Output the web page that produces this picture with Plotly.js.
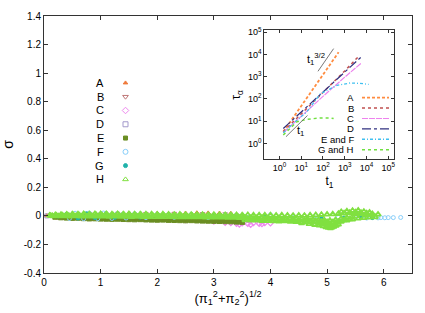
<!DOCTYPE html>
<html><head><meta charset="utf-8">
<script src="https://cdn.plot.ly/plotly-3.0.1.min.js"></script>
<style>html,body{margin:0;padding:0;background:#fff}#c{width:425px;height:313px}</style>
</head><body><div id="c"></div>
<script>
// ---------- main scatter data: sigma vs (pi1^2+pi2^2)^(1/2) ----------
const seriesNames = ["A","B","C","D","E","F","G","H"];
const aX = [0.05,0.2,0.5,1.0,1.5,2.0,2.5,2.7,2.9,3.1,3.3];
const aY = [0.002,0.004,0.014,0.018,0.019,0.019,0.020,0.022,0.021,0.020,0.018];
const bX = [0.3,0.8,1.3,1.8,2.3,2.8,3.2];
const bY = [0.010,0.017,0.018,0.017,0.018,0.016,0.015];
const cX = [0.5,1.5,2.5,3.0,3.2,3.3,3.4,3.5,3.6,3.7,3.8,3.9,4.0,3.45,3.65,3.85];
const cY = [-0.010,-0.020,-0.030,-0.040,-0.048,-0.050,-0.055,-0.052,-0.056,-0.050,-0.055,-0.050,-0.052,-0.060,-0.062,-0.058];
const dX = [0.05,0.2,0.6,1.0,1.6,2.2,2.8,3.4];
const dY = [0.000,0.000,0.005,0.008,0.006,0.004,0.002,0.000];
const eX = [0.2,0.3,0.4,0.5,0.6,0.7,0.8,0.9,1.0,1.1,1.2,1.3,1.4,1.5,1.6,1.7,1.8,1.9,2.0,2.1,2.2,2.3,2.4,2.5,2.6,2.7,2.8,2.9,3.0,3.1,3.2,3.3,3.4,3.5,
            0.25,0.35,0.45,0.55,0.65,0.75,0.85,0.95,1.05,1.15,1.25,1.35,1.45,1.55,1.65,1.75,1.85,1.95,2.05,2.15,2.25,2.35,2.45,2.55,2.65,2.75,2.85,2.95,3.05,3.15,3.25,3.35,3.45];
const eY = [-0.006,-0.010,-0.012,-0.014,-0.013,-0.016,-0.018,-0.017,-0.019,-0.020,-0.021,-0.020,-0.022,-0.023,-0.024,-0.023,-0.025,-0.026,-0.027,-0.026,-0.028,-0.029,-0.030,-0.031,-0.030,-0.032,-0.033,-0.034,-0.035,-0.036,-0.037,-0.038,-0.040,-0.042,
            -0.002,-0.004,-0.005,-0.006,-0.007,-0.008,-0.009,-0.010,-0.011,-0.012,-0.012,-0.013,-0.014,-0.015,-0.015,-0.016,-0.017,-0.018,-0.018,-0.019,-0.020,-0.021,-0.022,-0.022,-0.023,-0.024,-0.025,-0.026,-0.027,-0.028,-0.029,-0.030,-0.031];
const fX = [0.3,0.45,0.55,0.7,0.8,0.95,1.05,1.2,1.3,1.45,1.6,1.8,2.0,2.3,2.6,2.9,3.2,3.6,4.0,4.4,4.8,5.2,5.5,5.7,5.8,5.9,5.95,6.02,6.08,6.17,6.3];
const fY = [0.005,-0.018,0.018,-0.020,0.020,-0.020,0.020,-0.018,0.017,-0.015,0.015,-0.012,0.012,-0.010,0.011,-0.012,0.010,-0.010,0.008,-0.005,0.000,-0.010,-0.012,-0.015,-0.010,-0.014,-0.012,-0.013,-0.012,-0.012,-0.011];
const gX = [0.25,0.4,0.6,0.75,0.9,1.1,1.25,1.4,1.7,2.1,2.5,3.0,3.4,3.9,4.4,4.9,5.3,5.6,5.8];
const gY = [0.000,0.012,-0.015,0.015,-0.012,0.014,-0.010,0.012,-0.008,0.006,-0.006,0.004,-0.008,-0.010,-0.015,-0.020,-0.015,-0.010,-0.012];
const hX = [0.1,0.2,0.3,0.4,0.5,0.6,0.7,0.8,0.9,1.0,1.1,1.2,1.3,1.4,1.5,1.6,1.7,1.8,1.9,2.0,2.1,2.2,2.3,2.4,2.5,2.6,2.7,2.8,2.9,3.0,
            3.1,3.2,3.3,3.4,3.5,3.6,3.7,3.8,3.9,4.0,4.1,4.2,4.3,4.4,4.5,4.6,4.7,4.8,4.9,5.0,5.1,5.2,5.3,5.4,5.5,5.6,5.7,5.8,5.9,
            0.15,0.25,0.35,0.45,0.55,0.65,0.75,0.85,0.95,1.05,1.15,1.25,1.35,1.45,1.55,1.65,1.75,1.85,1.95,2.05,2.15,2.25,2.35,2.45,2.55,2.65,2.75,2.85,2.95,
            3.05,3.15,3.25,3.35,3.45,3.55,3.65,3.75,3.85,3.95,4.05,4.15,4.25,4.35,4.45,4.55,4.65,4.75,4.85,4.95,5.05,5.15,5.25,5.35,5.45,5.55,5.65,5.75,5.85,
            0.12,0.22,0.32,0.42,0.52,0.62,0.72,0.82,0.92,1.02,1.12,1.22,1.32,1.42,1.52,1.62,1.72,1.82,1.92,2.02,2.12,2.22,2.32,2.42,2.52,2.62,2.72,2.82,2.92,3.02,3.12,3.22,3.32,3.42,3.52,
            3.55,3.65,3.75,3.85,3.95,4.05,4.15,4.25,4.35,4.45,4.55,4.65,4.75,4.85,4.95,5.05,5.15,5.25,5.35,5.45,
            3.6,3.7,3.8,3.9,4.0,4.1,4.2,4.3,4.4,4.5,4.6,4.7,4.8,4.9,5.0,5.1,5.2,5.3,5.4,
            4.55,4.68,4.78,4.86,4.93,4.98,5.02,5.06,5.09,5.12,5.16,5.2,5.0,4.9,5.1,
            5.25,5.35,5.45,5.55,5.65,5.75,5.5,5.6,5.7,5.8];
const hY = [0.003,0.006,0.008,0.010,0.011,0.012,0.013,0.012,0.014,0.013,0.014,0.012,0.013,0.012,0.013,0.012,0.011,0.012,0.011,0.010,0.011,0.010,0.009,0.010,0.009,0.008,0.009,0.008,0.007,0.008,
            0.007,0.006,0.007,0.006,0.005,0.006,0.005,0.004,0.005,0.004,0.003,0.004,0.003,0.002,0.003,0.002,0.004,0.006,0.008,0.010,0.012,0.015,0.018,0.022,0.025,0.022,0.018,0.014,0.010,
            -0.001,-0.002,-0.002,-0.003,-0.002,-0.003,-0.004,-0.003,-0.004,-0.004,-0.005,-0.004,-0.005,-0.005,-0.006,-0.005,-0.006,-0.006,-0.007,-0.006,-0.007,-0.007,-0.008,-0.008,-0.009,-0.008,-0.009,-0.010,-0.010,
            -0.011,-0.011,-0.012,-0.012,-0.013,-0.030,-0.032,-0.031,-0.034,-0.035,-0.036,-0.038,-0.037,-0.040,-0.041,-0.043,-0.042,-0.045,-0.047,-0.050,-0.055,-0.050,-0.040,-0.032,-0.025,-0.018,-0.014,-0.010,-0.008,
            0.002,0.003,0.004,0.004,0.005,0.005,0.006,0.005,0.006,0.005,0.005,0.004,0.005,0.004,0.004,0.003,0.004,0.003,0.003,0.002,0.002,0.001,0.002,0.001,0.000,0.001,0.000,-0.001,-0.001,-0.002,-0.002,-0.003,-0.003,-0.004,-0.004,
            -0.012,-0.014,-0.015,-0.013,-0.016,-0.018,-0.017,-0.019,-0.020,-0.022,-0.021,-0.023,-0.025,-0.028,-0.030,-0.032,-0.028,-0.020,-0.012,-0.005,
            -0.022,-0.022,-0.024,-0.025,-0.026,-0.028,-0.027,-0.029,-0.031,-0.032,-0.033,-0.035,-0.036,-0.040,-0.042,-0.044,-0.040,-0.030,-0.022,
            -0.050,-0.056,-0.062,-0.066,-0.072,-0.078,-0.082,-0.086,-0.080,-0.075,-0.068,-0.060,-0.062,-0.058,-0.070,
            0.028,0.032,0.036,0.038,0.030,0.024,0.015,0.012,0.008,0.005];

// ---------- inset data: tau_alpha vs t1 (log-log) ----------
const insetNames = ["A","B","C","D","E and F","G and H"];
const inA_t = [1.5,3.2,10,32,100,250,525];
const inA_tau = [3.3,9.5,48,240,1200,4500,12600];
const inB_t = [1.5,10,100,1000,4000];
const inB_tau = [3.4,21,190,1800,7500];
const inC_t = [1.5,10,100,1000,5500];
const inC_tau = [3.0,17,130,950,3900];
const inD_t = [1.5,10,100,1000,6000];
const inD_tau = [4.7,26,205,1600,8000];
const inEF_t = [1.5,5,18,76,450,1800,5000,12600];
const inEF_tau = [3.0,9,26,170,410,520,500,450];
const inGH_t = [1.5,3,6.3,18,76,200,310];
const inGH_tau = [2.4,4.5,9.3,12,14,14,13];
const guide1_t = [2,19.5];
const guide1_tau = [2,18];
const guide32_t = [59,309];
const guide32_tau = [1740,18200];

// tick labels
const yTickVals = [-0.4,-0.2,0,0.2,0.4,0.6,0.8,1,1.2,1.4];
const yTickText = ["-0.4","-0.2","0","0.2","0.4","0.6","0.8","1","1.2","1.4"];
const xTickVals = [0,1,2,3,4,5,6];
const logTickVals = [1,10,100,1000,10000,100000];
const logTickText = ["10<sup>0</sup>","10<sup>1</sup>","10<sup>2</sup>","10<sup>3</sup>","10<sup>4</sup>","10<sup>5</sup>"];

// ---------- styles ----------
const mainStyles = [
  {color:"#ef7a3c", symbol:"triangle-up", size:4, lw:1},
  {color:"#c07878", symbol:"triangle-down-open", size:4, lw:1},
  {color:"#ee88ee", symbol:"diamond-open", size:4, lw:1.2},
  {color:"#a399cc", symbol:"square-open", size:4, lw:1},
  {color:"#6b8e23", symbol:"square", size:5, lw:1},
  {color:"#87cefa", symbol:"circle-open", size:4, lw:1},
  {color:"#20b2aa", symbol:"circle", size:4, lw:1},
  {color:"#80e040", symbol:"triangle-up-open", size:5, lw:1.8}
];
const legendSizes = [4,5,5,5,4,5,4,5];
const insetStyles = [
  {color:"#ff8c40", dash:"3px,2px", width:1.8},
  {color:"#c05050", dash:"dot", width:1.5},
  {color:"#ee82ee", dash:"6px,1px", width:1.2},
  {color:"#303080", dash:"dashdot", width:1.2},
  {color:"#40c0f0", dash:"3px,2px,1px,2px", width:1.3},
  {color:"#70e040", dash:"dot", width:1.5}
];

const mainXs = [aX,bX,cX,dX,eX,fX,gX,hX];
const mainYs = [aY,bY,cY,dY,eY,fY,gY,hY];
const insetTs = [inA_t,inB_t,inC_t,inD_t,inEF_t,inGH_t];
const insetTaus = [inA_tau,inB_tau,inC_tau,inD_tau,inEF_tau,inGH_tau];

const traces = [];
seriesNames.forEach((n,i)=>{
  const s = mainStyles[i];
  traces.push({type:"scatter", mode:"markers", name:n, x:mainXs[i], y:mainYs[i], xaxis:"x", yaxis:"y",
    marker:{color:s.color, symbol:s.symbol, size:s.size, line:{color:s.color, width:s.lw}}, showlegend:false, cliponaxis:true});
});
// legend keys for main (own axis, index based)
seriesNames.forEach((n,i)=>{
  const s = mainStyles[i];
  traces.push({type:"scatter", mode:"markers", x:[81.5], y:[i], xaxis:"x3", yaxis:"y3",
    marker:{color:s.color, symbol:s.symbol, size:legendSizes[i], line:{color:s.color, width:1}}, showlegend:false, hoverinfo:"skip"});
});
// inset lines
insetNames.forEach((n,i)=>{
  const s = insetStyles[i];
  traces.push({type:"scatter", mode:"lines", name:n, x:insetTs[i], y:insetTaus[i], xaxis:"x2", yaxis:"y2",
    line:{color:s.color, dash:s.dash, width:s.width}, showlegend:false});
  traces.push({type:"scatter", mode:"lines", x:[318,345], y:[i,i], xaxis:"x4", yaxis:"y4",
    line:{color:s.color, dash:s.dash, width:s.width}, showlegend:false, hoverinfo:"skip"});
});
traces.push({type:"scatter", mode:"lines", x:guide1_t, y:guide1_tau, xaxis:"x2", yaxis:"y2", line:{color:"#555", width:0.8}, showlegend:false});
traces.push({type:"scatter", mode:"lines", x:guide32_t, y:guide32_tau, xaxis:"x2", yaxis:"y2", line:{color:"#555", width:0.8}, showlegend:false});

const font = "Liberation Sans, Arial, sans-serif";
const axCommon = {showline:true, linecolor:"#333", linewidth:1, mirror:"allticks", ticks:"inside", ticklen:4, tickcolor:"#333",
  showgrid:false, zeroline:false, tickfont:{family:font, size:10, color:"#000"}};

const annotations = [];
seriesNames.forEach((n,i)=>{
  annotations.push({xref:"x3", yref:"y3", x:62, y:i, text:n, showarrow:false, xanchor:"right", yanchor:"middle",
    font:{family:font, size:11, color:"#000"}});
});
insetNames.forEach((n,i)=>{
  annotations.push({xref:"x4", yref:"y4", x:311, y:i, text:n, showarrow:false, xanchor:"right", yanchor:"middle",
    font:{family:font, size:9.5, color:"#000"}, borderpad:0});
});
annotations.push({xref:"x2", yref:"y2", x:1.69, y:3.8, text:"t<sub>1</sub><sup>3/2</sup>", showarrow:false, font:{family:font, size:11, color:"#000"}});
annotations.push({xref:"x2", yref:"y2", x:0.97, y:0.55, text:"t<sub>1</sub>", showarrow:false, font:{family:font, size:11, color:"#000"}});

const layout = {
  width:425, height:313, margin:{l:44, r:13, t:16, b:40},
  paper_bgcolor:"#fff", plot_bgcolor:"rgba(0,0,0,0)", showlegend:false,
  xaxis: Object.assign({}, axCommon, {range:[0,6.5], tickvals:xTickVals, domain:[0,1], anchor:"y",
    title:{text:"(π<sub>1</sub><sup>2</sup>+π<sub>2</sub><sup>2</sup>)<sup>1/2</sup>", font:{family:font, size:13, color:"#000"}, standoff:6}}),
  yaxis: Object.assign({}, axCommon, {range:[-0.4,1.4], tickvals:yTickVals, ticktext:yTickText, domain:[0,1], anchor:"x",
    title:{text:"σ", font:{family:font, size:14, color:"#000"}, standoff:16}}),
  xaxis2: Object.assign({}, axCommon, {type:"log", range:[-0.69,5.28], domain:[0.599,0.952], anchor:"y2",
    tickvals:logTickVals, ticktext:logTickText, ticklen:3, tickfont:{family:font, size:9, color:"#000"},
    title:{text:"t<sub>1</sub>", font:{family:font, size:12, color:"#000"}, standoff:4}}),
  yaxis2: Object.assign({}, axCommon, {type:"log", range:[-0.72,5.08], domain:[0.442,0.944], anchor:"x2",
    tickvals:logTickVals, ticktext:logTickText, ticklen:3, tickfont:{family:font, size:9, color:"#000"},
    title:{text:"τ<sub>α</sub>", font:{family:font, size:12, color:"#000"}, standoff:4}}),
  xaxis3: {range:[0,368], domain:[0,1], anchor:"y3", overlaying:"x", visible:false, fixedrange:true},
  yaxis3: {range:[13.79,-4.855], domain:[0,1], anchor:"x3", overlaying:"y", visible:false, fixedrange:true},
  xaxis4: {range:[0,368], domain:[0,1], anchor:"y4", overlaying:"x", visible:false, fixedrange:true},
  yaxis4: {range:[16.875,-7.865], domain:[0,1], anchor:"x4", overlaying:"y", visible:false, fixedrange:true},
  annotations: annotations
};
Plotly.newPlot("c", traces, layout, {staticPlot:true, displayModeBar:false});
</script></body></html>
